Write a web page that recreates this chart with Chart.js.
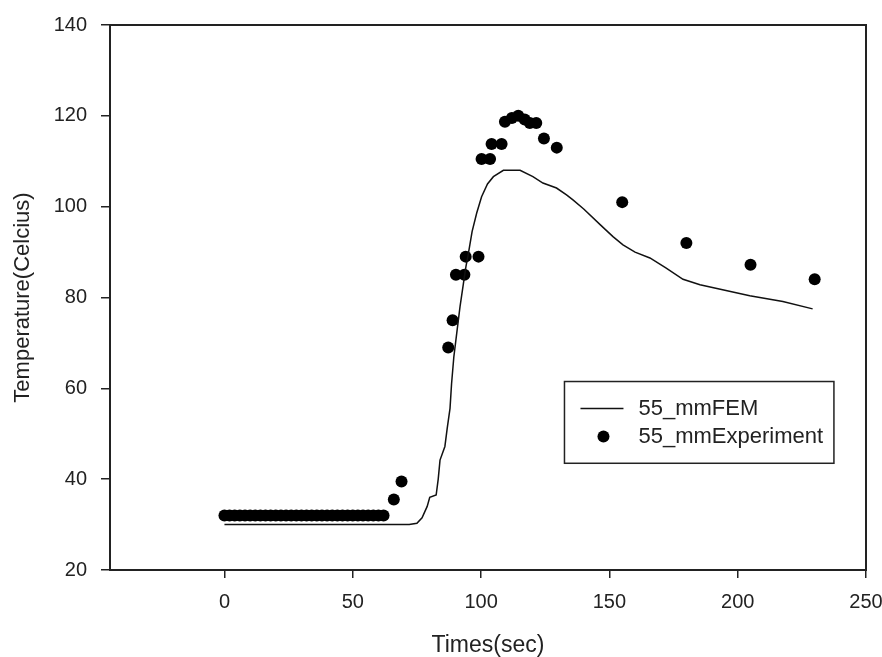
<!DOCTYPE html>
<html>
<head>
<meta charset="utf-8">
<script src="https://cdn.jsdelivr.net/npm/chart.js@4.4.0/dist/chart.umd.min.js"></script>
<style>
  html, body { margin: 0; padding: 0; background: #fff; }
  #wrap { width: 882px; height: 657px; }
</style>
</head>
<body>
<div id="wrap"><canvas id="chart" width="882" height="657"></canvas></div>
<script>
// --- Data ---
const X_TICKS = [0, 50, 100, 150, 200, 250];
const Y_TICKS = [20, 40, 60, 80, 100, 120, 140];

// FEM curve (time in sec, temperature)
const femTime = [0, 72, 75, 77, 79, 80, 82.5, 83.3, 84, 85.9, 86.8, 87.9, 88.5, 89.4, 90.7, 91.8, 93.1, 94.1, 95,
  96.5, 98.3, 100.2, 102.5, 104.8, 108.7, 115.2, 120.2, 124.1, 129.4, 133.3, 135.8, 140, 146.5, 151.4, 155.3,
  160, 165.8, 172, 178.7, 185.3, 195, 204.7, 217.6, 229.2];
const femTemp = [30, 30, 30.3, 31.5, 34, 36, 36.5, 40, 44.2, 47.2, 51.2, 55.6, 61, 67, 73, 78, 83, 86.8, 89.5,
  94.5, 98.6, 102.2, 105, 106.6, 108, 108, 106.6, 105.2, 104.1, 102.6, 101.5, 99.5, 96, 93.4, 91.6,
  90, 88.7, 86.5, 84, 82.8, 81.6, 80.4, 79.1, 77.5];

// Experiment points
const expTime = [0, 2, 4, 6, 8, 10, 12, 14, 16, 18, 20, 22, 24, 26, 28, 30, 32, 34, 36, 38, 40, 42, 44, 46, 48,
  50, 52, 54, 56, 58, 60, 62, 66, 69, 87.2, 88.9, 90.2, 93.5, 94, 99, 100.2, 103.5, 104.1, 108,
  109.3, 112, 114.5, 117, 119, 121.5, 124.5, 129.5, 155, 180, 205, 230];
const expTemp = [32, 32, 32, 32, 32, 32, 32, 32, 32, 32, 32, 32, 32, 32, 32, 32, 32, 32, 32, 32, 32, 32, 32, 32, 32,
  32, 32, 32, 32, 32, 32, 32, 35.5, 39.5, 69, 75, 85, 85, 89, 89, 110.5, 110.5, 113.8, 113.8,
  118.7, 119.5, 120, 119.2, 118.4, 118.4, 115, 113, 101, 92, 87.2, 84];

const FEM_LABEL = '55_mmFEM';
const EXP_LABEL = '55_mmExperiment';

const INK = '#222';
const FONT = 'Liberation Sans, Arial, sans-serif';

function toPoints(xs, ys) {
  return xs.map((x, i) => ({ x: x, y: ys[i] }));
}

// --- Plot frame (box round the chart area) ---
const framePlugin = {
  id: 'frame',
  afterDatasetsDraw(chart) {
    const a = chart.chartArea;
    const ctx = chart.ctx;
    ctx.save();
    ctx.strokeStyle = INK;
    ctx.lineWidth = 2;
    ctx.strokeRect(a.left, a.top, a.right - a.left, a.bottom - a.top);
    ctx.restore();
  }
};

// --- Legend box inside the plot ---
const legendPlugin = {
  id: 'boxLegend',
  afterDraw(chart) {
    const ctx = chart.ctx;
    const xs = chart.scales.x, ys = chart.scales.y;
    // box anchored in data units so it follows the scales
    const left = xs.getPixelForValue(132.5), right = xs.getPixelForValue(237.5);
    const top = ys.getPixelForValue(61.5), bottom = ys.getPixelForValue(43.5);
    ctx.save();
    ctx.fillStyle = '#fff';
    ctx.fillRect(left, top, right - left, bottom - top);
    ctx.strokeStyle = INK;
    ctx.lineWidth = 1.5;
    ctx.strokeRect(left, top, right - left, bottom - top);

    const row1 = top + 27, row2 = top + 55;
    ctx.beginPath();
    ctx.moveTo(left + 16, row1);
    ctx.lineTo(left + 59, row1);
    ctx.strokeStyle = '#111';
    ctx.lineWidth = 1.5;
    ctx.stroke();

    ctx.beginPath();
    ctx.arc(left + 39, row2, 6, 0, Math.PI * 2);
    ctx.fillStyle = '#000';
    ctx.fill();

    ctx.fillStyle = INK;
    ctx.font = '22px ' + FONT;
    ctx.textBaseline = 'middle';
    ctx.textAlign = 'left';
    ctx.fillText(chart.data.datasets[0].label, left + 74, row1);
    ctx.fillText(chart.data.datasets[1].label, left + 74, row2);
    ctx.restore();
  }
};

const ctx = document.getElementById('chart').getContext('2d');
new Chart(ctx, {
  type: 'scatter',
  data: {
    datasets: [
      {
        label: FEM_LABEL,
        data: toPoints(femTime, femTemp),
        showLine: true,
        borderColor: '#111',
        borderWidth: 1.5,
        pointRadius: 0,
        tension: 0,
        fill: false
      },
      {
        label: EXP_LABEL,
        data: toPoints(expTime, expTemp),
        showLine: false,
        pointRadius: 6,
        pointBackgroundColor: '#000',
        pointBorderWidth: 0,
        pointStyle: 'circle'
      }
    ]
  },
  options: {
    responsive: false,
    animation: false,
    layout: { padding: { top: 25, right: 16, left: 0, bottom: 0 } },
    plugins: {
      legend: { display: false },
      tooltip: { enabled: false }
    },
    scales: {
      x: {
        type: 'linear',
        min: -44.6,
        max: 250,
        afterBuildTicks: (scale) => { scale.ticks = X_TICKS.map(v => ({ value: v })); },
        afterFit: (scale) => {
          scale.height = 87;
          scale.paddingLeft = 0;
          scale.paddingRight = 0;
        },
        border: { display: false },
        grid: { drawOnChartArea: false, drawTicks: true, tickLength: 8, color: INK, lineWidth: 1.5 },
        ticks: { color: INK, font: { family: FONT, size: 20 }, padding: 12, maxRotation: 0 },
        title: {
          display: true,
          text: 'Times(sec)',
          color: INK,
          font: { family: FONT, size: 23, lineHeight: 1.0 },
          padding: { top: 0, bottom: 0 }
        }
      },
      y: {
        type: 'linear',
        min: 20,
        max: 140,
        afterBuildTicks: (scale) => { scale.ticks = Y_TICKS.map(v => ({ value: v })); },
        afterFit: (scale) => {
          scale.width = 110;
          scale.paddingTop = 0;
          scale.paddingBottom = 0;
        },
        border: { display: false },
        grid: { drawOnChartArea: false, drawTicks: true, tickLength: 9, color: INK, lineWidth: 1.5 },
        ticks: { color: INK, font: { family: FONT, size: 20 }, padding: 14 },
        title: {
          display: true,
          text: 'Temperature(Celcius)',
          color: INK,
          font: { family: FONT, size: 22, lineHeight: 1.0 },
          padding: { top: 12, bottom: 0 }
        }
      }
    }
  },
  plugins: [framePlugin, legendPlugin]
});
</script>
</body>
</html>
